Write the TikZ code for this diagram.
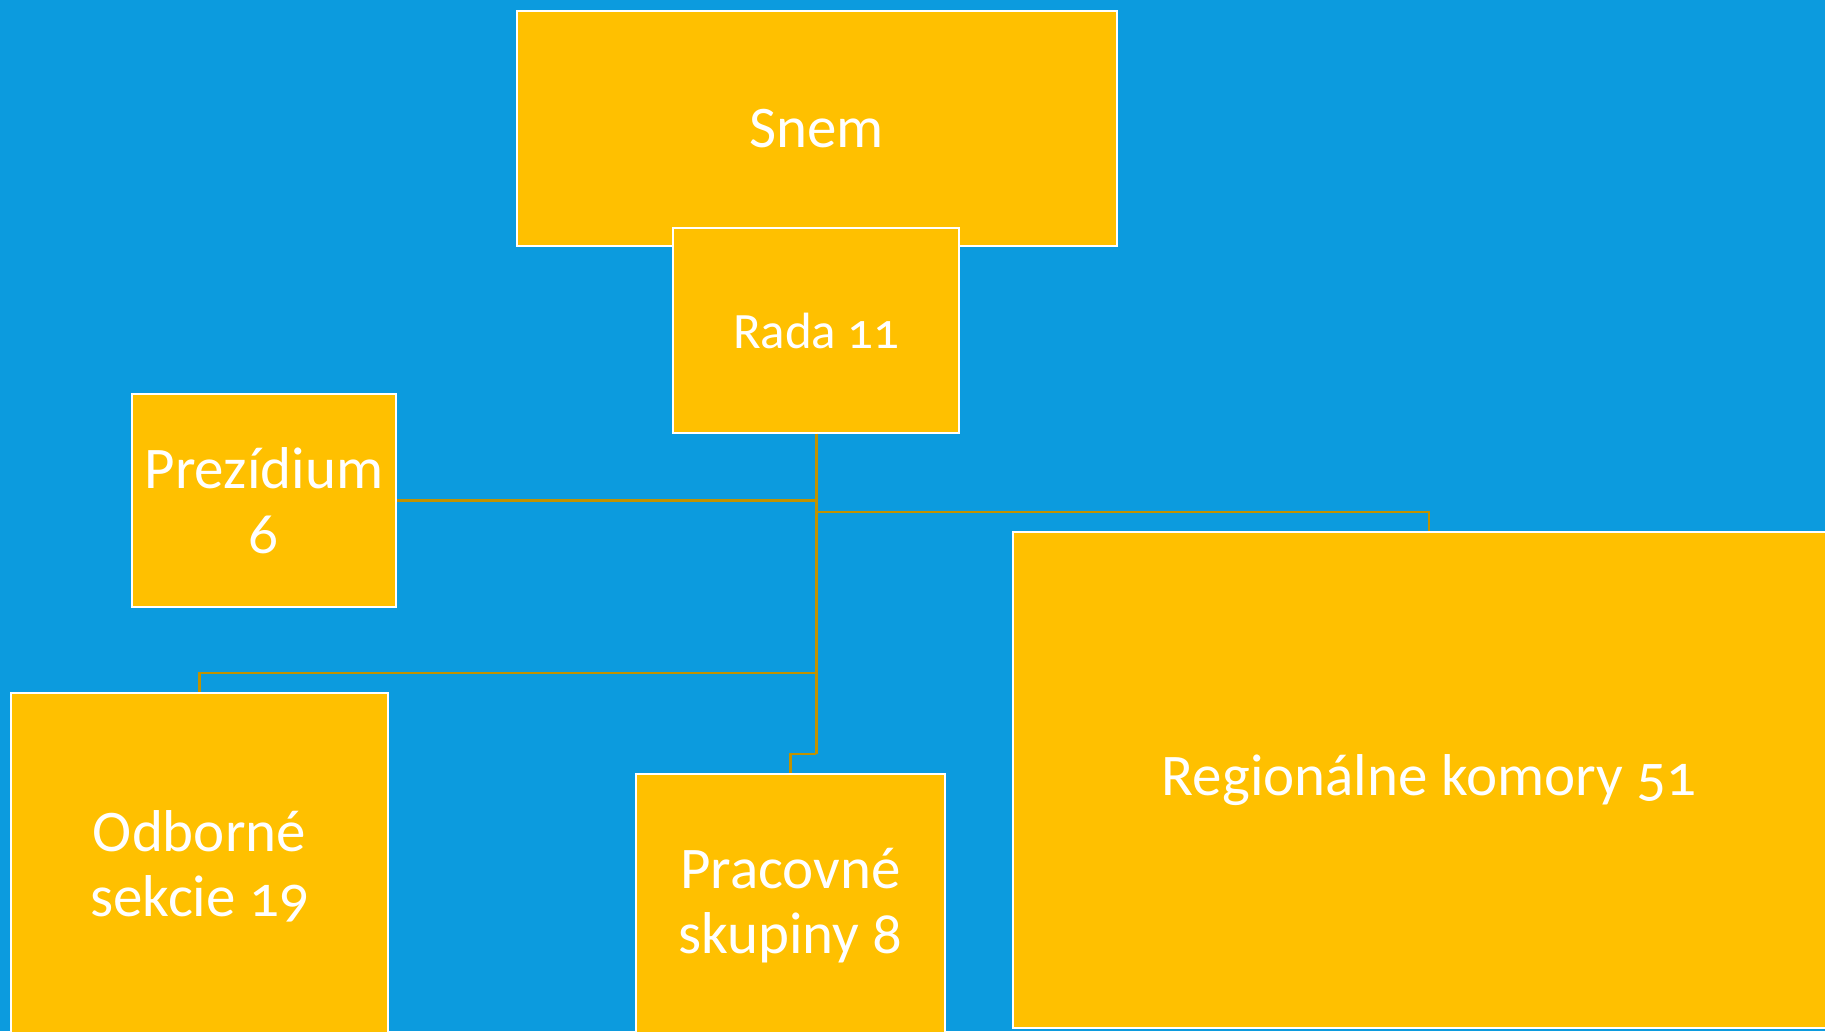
\documentclass[tikz,border=0pt]{standalone}
\usepackage{fontspec}
\setmainfont{Carlito}[Numbers=OldStyle]
\definecolor{bgblue}{RGB}{12,155,222}
\definecolor{boxgold}{RGB}{255,192,0}
\definecolor{linegold}{RGB}{192,146,0}
\tikzset{
  orgbox/.style={draw=white, line width=2pt, fill=boxgold, text=white, inner sep=0pt, align=center,
    font=\fontsize{59}{65}\selectfont},
  conn/.style={draw=linegold, line width=2.4pt}
}
\begin{document}
\begin{tikzpicture}[x=1pt,y=-1pt]
\fill[bgblue] (0,0) rectangle (1825,1031);
\useasboundingbox (0,0) rectangle (1825,1031);
\clip (0,0) rectangle (1825,1031);
% nodes
\node[orgbox, minimum width=600.4pt, minimum height=235pt] (snem) at (816.8,128.2) {Snem};
\node[orgbox, minimum width=286pt, minimum height=204.4pt, font=\fontsize{51}{60}\selectfont] (rada) at (816.3,330.5) {Rada 11};
\node[orgbox, minimum width=264.3pt, minimum height=212.4pt] (prez) at (263.9,500.5) {Prezídium\\6};
\node[orgbox, minimum width=377pt, minimum height=346pt] (odb) at (199.5,866) {Odborné\\sekcie 19};
\node[orgbox, minimum width=309pt, minimum height=263pt] (prac) at (790.5,905.5) {Pracovné\\skupiny 8};
\node[orgbox, minimum width=832pt, minimum height=496pt] (reg) at (1429,780) {Regionálne komory 51};
% junctions
\coordinate (jr) at (816.3,511.7);
\coordinate (jo) at (816.3,672.7);
\coordinate (trunkend) at (816.3,754);
% connectors
\draw[conn] (rada.south) -- (trunkend);
\draw[conn] (prez.east) -- (prez.east -| rada.south);
\draw[conn] (jr) -| (reg.north);
\draw[conn] (jo) -| (odb.north);
\draw[conn] (trunkend) -| (prac.north);
\end{tikzpicture}
\end{document}
